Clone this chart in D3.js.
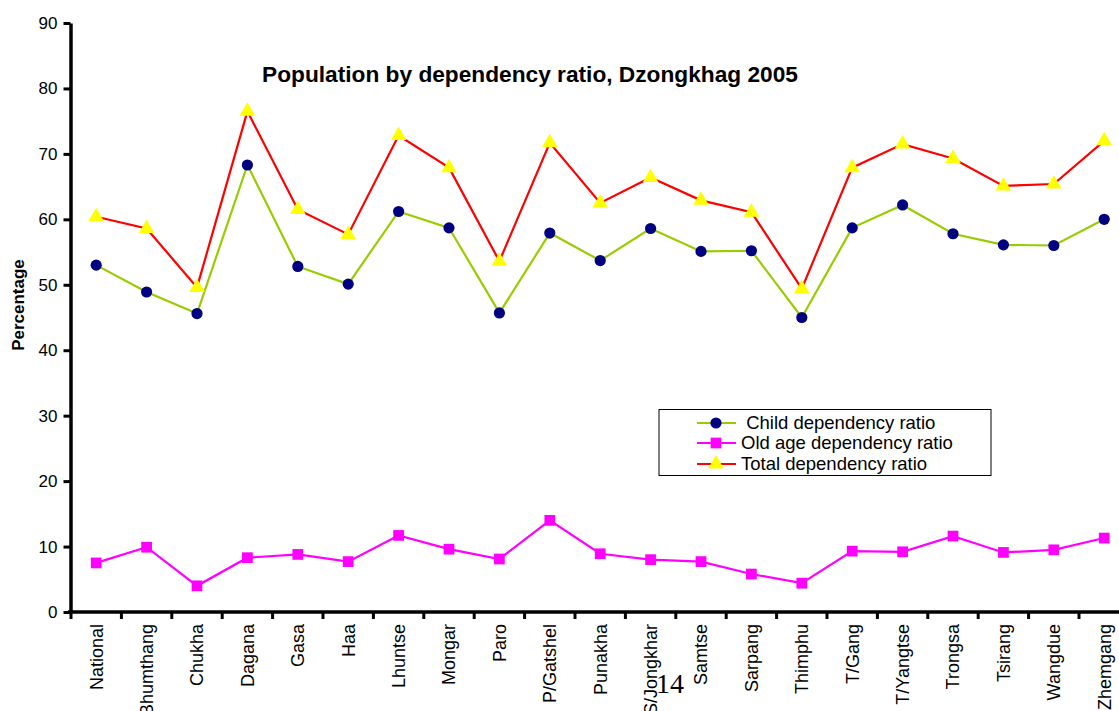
<!DOCTYPE html>
<html><head><meta charset="utf-8">
<script src="https://cdn.jsdelivr.net/npm/d3@7/dist/d3.min.js"></script>
<style>body{margin:0;background:#fff}svg{display:block}</style>
</head><body><svg id="c" width="1119" height="711"></svg>
<script>
const categories = ["National","Bhumthang","Chukha","Dagana","Gasa","Haa","Lhuntse","Mongar","Paro","P/Gatshel","Punakha","S/Jongkhar","Samtse","Sarpang","Thimphu","T/Gang","T/Yangtse","Trongsa","Tsirang","Wangdue","Zhemgang"];
const childRatio = [53.0,48.9,45.6,68.3,52.8,50.1,61.2,58.7,45.7,57.9,53.7,58.6,55.1,55.2,45.0,58.7,62.2,57.8,56.1,56.0,60.0];
const oldRatio = [7.5,9.9,4.0,8.3,8.8,7.7,11.7,9.6,8.1,14.0,8.9,8.0,7.7,5.8,4.4,9.3,9.2,11.6,9.1,9.5,11.3];
const totalRatio = [60.4,58.6,49.6,76.5,61.5,57.7,72.8,67.9,53.6,71.7,62.5,66.4,62.9,61.1,49.4,67.9,71.5,69.3,65.1,65.4,72.0];
const yTicks = [0,10,20,30,40,50,60,70,80,90];
const seriesNames = ["Child dependency ratio","Old age dependency ratio","Total dependency ratio"];

const svg = d3.select("#c");
const font = "Arial, 'Liberation Sans', sans-serif";
const x = d3.scaleBand().domain(categories).range([71, 71 + 21*50.4]).padding(0);
const y = d3.scaleLinear().domain([0, 90]).range([612, 23]);
const cx = c => x(c) + x.bandwidth()/2;

// y axis
const yAxis = svg.append("g").attr("transform","translate(70.5,0)")
  .call(d3.axisLeft(y).tickValues(yTicks).tickSize(7).tickSizeOuter(0).tickPadding(6));
yAxis.select(".domain").attr("stroke","#000").attr("stroke-width",3.5);
yAxis.selectAll(".tick line").attr("stroke-width",3);
yAxis.selectAll(".tick text").attr("font-family",font).attr("font-size",17).attr("fill","#000");

// x axis line + ticks at band edges
const xg = svg.append("g");
xg.append("line").attr("x1",68).attr("x2",1119).attr("y1",y(0)).attr("y2",y(0))
  .attr("stroke","#000").attr("stroke-width",3.5);
const edges = categories.map(c => x(c)).concat([x.range()[1]]);
xg.selectAll("line.t").data(edges).join("line").attr("class","t")
  .attr("x1",d=>d).attr("x2",d=>d).attr("y1",y(0)).attr("y2",y(0)+7)
  .attr("stroke","#000").attr("stroke-width",3);
xg.selectAll("text").data(categories).join("text")
  .attr("transform",c=>`translate(${cx(c)},624) rotate(-90)`)
  .attr("text-anchor","end").attr("dy","0.35em")
  .attr("font-family",font).attr("font-size",18).attr("fill","#000").text(c=>c);

// y title
svg.append("text").attr("transform","translate(18,305) rotate(-90)")
  .attr("text-anchor","middle").attr("dy","0.35em")
  .attr("font-family",font).attr("font-size",17).attr("font-weight","bold").text("Percentage");

// title
svg.append("text").attr("x",530).attr("y",82).attr("text-anchor","middle")
  .attr("font-family",font).attr("font-size",22.7).attr("font-weight","bold")
  .text("Population by dependency ratio, Dzongkhag 2005");

const line = d3.line().x((d,i)=>cx(categories[i])).y(d=>y(d));
const tri = d3.symbol().type(d3.symbolTriangle).size(105);
const sq = d3.symbol().type(d3.symbolSquare).size(115);

function drawSeries(vals, color, kind){
  svg.append("path").attr("d", line(vals)).attr("fill","none").attr("stroke",color).attr("stroke-width",2.2);
  const g = svg.append("g");
  vals.forEach((v,i)=>{
    const px = cx(categories[i]), py = y(v);
    if(kind==="circle") g.append("circle").attr("cx",px).attr("cy",py).attr("r",5.6).attr("fill","#000080");
    else if(kind==="square") g.append("path").attr("d",sq()).attr("transform",`translate(${px},${py})`).attr("fill","#FF00FF");
    else g.append("path").attr("d",tri()).attr("transform",`translate(${px},${py})`).attr("fill","#FFFF00");
  });
}
drawSeries(childRatio, "#99CC00", "circle");
drawSeries(oldRatio, "#FF00FF", "square");
drawSeries(totalRatio, "#FF0000", "triangle");

// legend
const lg = svg.append("g");
lg.append("rect").attr("x",659).attr("y",409.5).attr("width",332).attr("height",66)
  .attr("fill","#fff").attr("stroke","#000").attr("stroke-width",1);
const legendRows = [
  {name:" " + seriesNames[0], color:"#99CC00", kind:"circle", yy:423},
  {name:seriesNames[1], color:"#FF00FF", kind:"square", yy:443},
  {name:seriesNames[2], color:"#FF0000", kind:"triangle", yy:464}
];
legendRows.forEach(r=>{
  lg.append("line").attr("x1",697).attr("x2",736).attr("y1",r.yy).attr("y2",r.yy).attr("stroke",r.color).attr("stroke-width",2.2);
  if(r.kind==="circle") lg.append("circle").attr("cx",716).attr("cy",r.yy).attr("r",5.6).attr("fill","#000080");
  else if(r.kind==="square") lg.append("path").attr("d",sq()).attr("transform",`translate(716,${r.yy})`).attr("fill","#FF00FF");
  else lg.append("path").attr("d",tri()).attr("transform",`translate(716,${r.yy})`).attr("fill","#FFFF00");
  lg.append("text").attr("x",741).attr("y",r.yy).attr("dy","0.35em").attr("xml:space","preserve")
    .style("white-space","pre")
    .attr("font-family",font).attr("font-size",18.5).attr("fill","#000").text(r.name);
});

// page number
svg.append("text").attr("x",656).attr("y",693).attr("font-family","'Times New Roman','Liberation Serif',serif")
  .attr("font-size",28).attr("fill","#000").text("14");
</script></body></html>
